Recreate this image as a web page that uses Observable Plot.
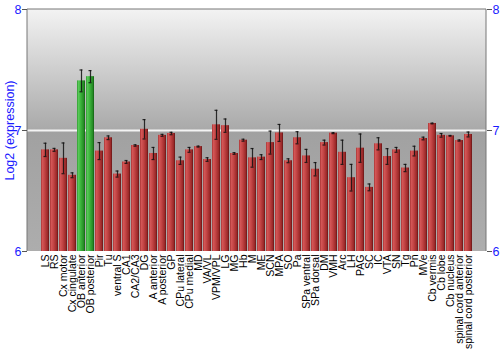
<!DOCTYPE html>
<html>
<head>
<meta charset="utf-8">
<script src="https://cdn.jsdelivr.net/npm/d3@7"></script>
<script src="https://cdn.jsdelivr.net/npm/@observablehq/plot@0.6"></script>
<style>
  html, body { margin: 0; padding: 0; background: #fff; }
  #chart { width: 500px; height: 350px; }
</style>
</head>
<body>
<div id="chart"></div>
<script>
const categories = ["LS","RS","Cx motor","Cx cingulate","OB anterior","OB posterior","Pir","Tu","ventral S","CA1","CA2/CA3","DG","A anterior","A posterior","GP","CPu lateral","CPu medial","MD","VA/VL","VPM/VPL","LG","MG","Hb","M","ME","SCN","MPA","SO","Pa","SPa ventral","SPa dorsal","DM","VMH","Arc","LH","PAG","SC","IC","VTA","SN","Tg","Pn","MVe","Cb vermis","Cb lobe","Cb nucleus","spinal cord anterior","spinal cord posterior"];
const values = [6.84,6.84,6.77,6.63,7.41,7.445,6.83,6.94,6.64,6.74,6.876,7.01,6.81,6.96,6.975,6.75,6.84,6.867,6.76,7.047,7.04,6.81,6.92,6.774,6.78,6.90,6.98,6.75,6.94,6.79,6.68,6.90,6.978,6.82,6.61,6.854,6.53,6.89,6.785,6.84,6.69,6.83,6.934,7.058,6.96,6.956,6.917,6.967];
const errors = [0.055,0.012,0.127,0.02,0.09,0.05,0.07,0.015,0.025,0.012,0.006,0.08,0.05,0.008,0.01,0.03,0.02,0.004,0.015,0.12,0.055,0.007,0.008,0.077,0.02,0.095,0.07,0.016,0.05,0.054,0.055,0.02,0.004,0.1,0.11,0.117,0.028,0.05,0.065,0.02,0.03,0.04,0.011,0.003,0.015,0.003,0.005,0.02];
const highlighted = ["OB anterior","OB posterior"];
const yTicks = [6, 7, 8];
const yLabel = "Log2 (expression)";

const data = categories.map((c, i) => ({c, v: values[i], e: errors[i], hi: highlighted.includes(c)}));

const background = (index, scales, values, dim) => {
  const ns = "http://www.w3.org/2000/svg";
  const g = document.createElementNS(ns, "g");
  g.innerHTML = `
  <defs>
    <linearGradient id="bgGrad" x1="0" y1="0" x2="0" y2="1">
      <stop offset="0" stop-color="#f3f3f3"/>
      <stop offset="0.5" stop-color="#a9a9a9"/>
      <stop offset="0.5" stop-color="#a1a1a1"/>
      <stop offset="1" stop-color="#adadad"/>
    </linearGradient>
    <linearGradient id="redGrad" x1="0" y1="0" x2="1" y2="0">
      <stop offset="0" stop-color="#a83434"/>
      <stop offset="0.18" stop-color="#d35656"/>
      <stop offset="0.45" stop-color="#c24444"/>
      <stop offset="0.85" stop-color="#992727"/>
      <stop offset="1" stop-color="#601414"/>
    </linearGradient>
    <linearGradient id="greenGrad" x1="0" y1="0" x2="1" y2="0">
      <stop offset="0" stop-color="#2f9a2f"/>
      <stop offset="0.18" stop-color="#58c858"/>
      <stop offset="0.45" stop-color="#3db53d"/>
      <stop offset="0.85" stop-color="#248a24"/>
      <stop offset="1" stop-color="#125a12"/>
    </linearGradient>
  </defs>`;
  const l = dim.marginLeft, r = dim.width - dim.marginRight, t = dim.marginTop, b = dim.height - dim.marginBottom;
  const rect = document.createElementNS(ns, "rect");
  rect.setAttribute("x", l); rect.setAttribute("y", t);
  rect.setAttribute("width", r - l); rect.setAttribute("height", b - t);
  rect.setAttribute("fill", "url(#bgGrad)");
  g.appendChild(rect);
  return g;
};

const frameLines = (index, scales, values, dim) => {
  const ns = "http://www.w3.org/2000/svg";
  const l = dim.marginLeft, r = dim.width - dim.marginRight, t = dim.marginTop, b = dim.height - dim.marginBottom;
  const p = document.createElementNS(ns, "path");
  p.setAttribute("d", `M${l},${b}V${t}H${r}V${b}`);
  p.setAttribute("fill", "none");
  p.setAttribute("stroke", "#777");
  return p;
};

const chart = Plot.plot({
  width: 500,
  height: 350,
  marginLeft: 27,
  marginRight: 14,
  marginTop: 9,
  marginBottom: 99,
  style: {fontFamily: "'Liberation Sans', Arial, sans-serif", background: "transparent"},
  x: {domain: categories, paddingInner: 0.1, paddingOuter: 0.03},
  y: {domain: [6, 8]},
  marks: [
    background,
    Plot.ruleY([7], {stroke: "#f4f4f4", strokeWidth: 2}),
    Plot.barY(data.filter(d => !d.hi), {x: "c", y1: 6, y2: "v", fill: "url(#redGrad)"}),
    Plot.barY(data.filter(d => d.hi), {x: "c", y1: 6, y2: "v", fill: "url(#greenGrad)"}),
    Plot.ruleX(data, {x: "c", y1: d => d.v - d.e, y2: d => d.v + d.e, stroke: "#111", strokeWidth: 1.2, strokeOpacity: 0.85}),
    Plot.tickY(data, {x: "c", y: d => d.v - d.e, stroke: "#111", strokeWidth: 1.2, strokeOpacity: 0.85, insetLeft: 2.5, insetRight: 2.5}),
    Plot.tickY(data, {x: "c", y: d => d.v + d.e, stroke: "#111", strokeWidth: 1.2, strokeOpacity: 0.85, insetLeft: 2.5, insetRight: 2.5}),
    frameLines,
    Plot.axisY({anchor: "left", ticks: yTicks, tickFormat: d => String(d), tickSize: 5, tickPadding: 1, stroke: "#555", fill: "#1a1aff", fontSize: 12.5,
      label: yLabel, labelAnchor: "center", labelArrow: "none", labelOffset: 22}),
    Plot.axisY({anchor: "right", ticks: yTicks, tickFormat: d => String(d), tickSize: 5, tickPadding: 1, stroke: "#555", fill: "#1a1aff", fontSize: 12.5, label: null}),
    Plot.axisX({tickRotate: -90, tickSize: 0, tickPadding: 3, fontSize: 10.5, fill: "#000", label: null})
  ]
});
document.getElementById("chart").appendChild(chart);
</script>
</body>
</html>
